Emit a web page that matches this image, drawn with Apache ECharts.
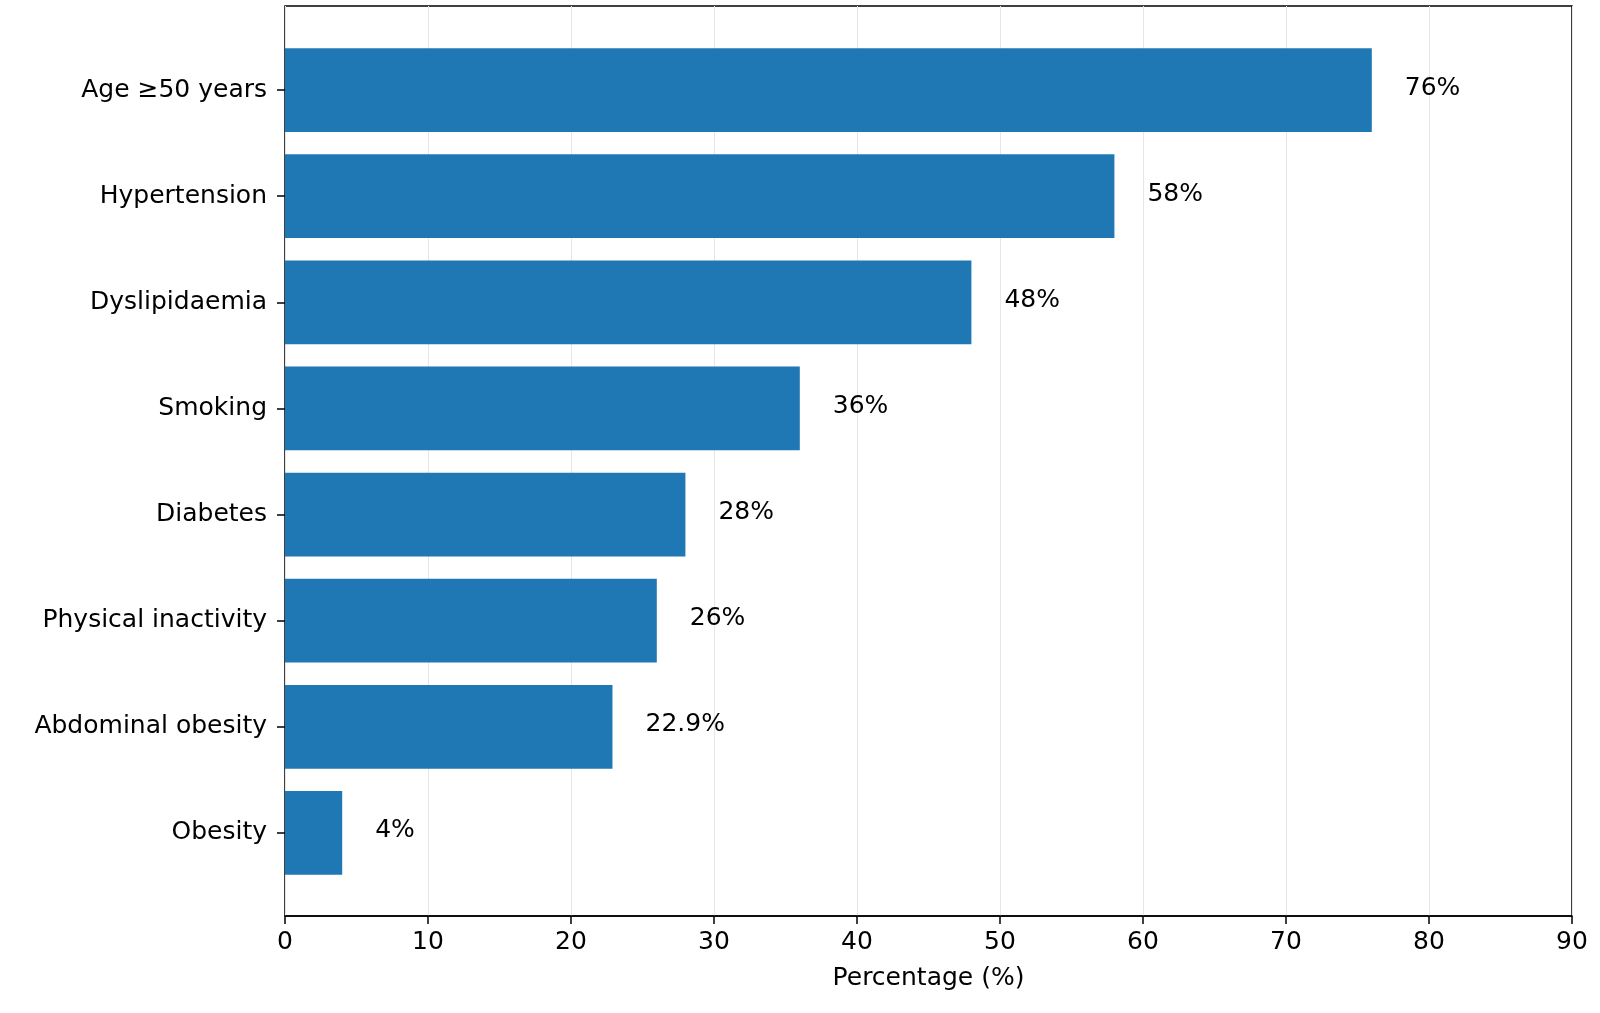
<!DOCTYPE html>
<html>
<head>
<meta charset="utf-8">
<script src="https://cdn.jsdelivr.net/npm/echarts@6/dist/echarts.min.js"></script>
<style>html,body{margin:0;padding:0;background:#fff}#chart{width:1600px;height:1013px}</style>
</head>
<body>
<div id="chart"></div>
<script>
const categories = ['Age \u226550 years', 'Hypertension', 'Dyslipidaemia', 'Smoking', 'Diabetes', 'Physical inactivity', 'Abdominal obesity', 'Obesity'];
const values = [76, 58, 48, 36, 28, 26, 22.9, 4];
const xTicks = [0, 10, 20, 30, 40, 50, 60, 70, 80, 90];

const chart = echarts.init(document.getElementById('chart'));
const font = 'DejaVu Sans';
const black = { color: '#000', width: 1.5 };

chart.setOption({
  animation: false,
  textStyle: { fontFamily: font },
  grid: [
    // frame with x axis
    { left: 285, right: 28, top: 6, bottom: 97, show: true, borderColor: '#000', borderWidth: 1.5 },
    // bars (matplotlib-like margins)
    { left: 285, right: 28, top: 37, bottom: 127 }
  ],
  xAxis: [{
    gridIndex: 0,
    type: 'value',
    min: xTicks[0],
    max: xTicks[xTicks.length - 1],
    interval: 10,
    name: 'Percentage (%)',
    nameLocation: 'middle',
    nameGap: 50,
    nameTextStyle: { fontSize: 25, color: '#000', fontFamily: font },
    axisLine: { show: true, lineStyle: black },
    axisTick: { show: true, length: 8, lineStyle: black },
    axisLabel: { fontSize: 25, color: '#000', margin: 14, fontFamily: font },
    splitLine: { show: true, lineStyle: { color: '#e6e6e6', width: 1 } }
  }, {
    gridIndex: 1,
    type: 'value',
    min: xTicks[0],
    max: xTicks[xTicks.length - 1],
    show: false
  }],
  yAxis: [{
    gridIndex: 0,
    type: 'value',
    show: false
  }, {
    gridIndex: 1,
    type: 'category',
    data: categories,
    inverse: true,
    axisLine: { show: false },
    axisTick: { show: true, alignWithLabel: true, length: 8, lineStyle: black },
    axisLabel: { fontSize: 25, color: '#000', margin: 18, fontFamily: font }
  }],
  series: [{
    type: 'bar',
    xAxisIndex: 1,
    yAxisIndex: 1,
    data: values,
    barCategoryGap: '21%',
    itemStyle: { color: '#1f77b4' },
    label: {
      show: true,
      position: 'right',
      distance: 33,
      fontSize: 25,
      color: '#000',
      fontFamily: font,
      offset: [0, -2],
      formatter: p => p.value + '%'
    }
  }]
});
</script>
</body>
</html>
